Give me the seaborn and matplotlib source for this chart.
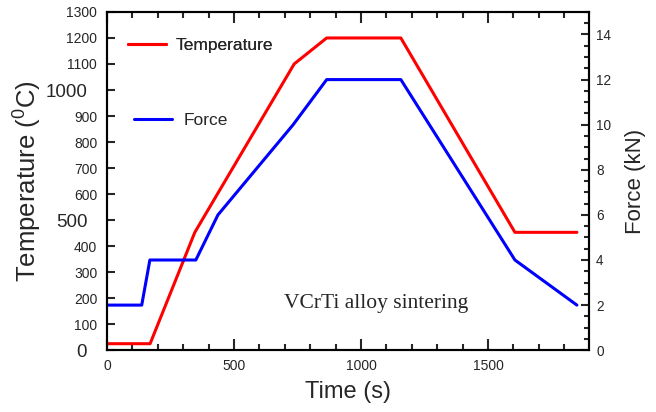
import numpy as np
import pandas as pd
import matplotlib
matplotlib.use("Agg")
import matplotlib.pyplot as plt
import matplotlib.transforms as mtransforms
import seaborn as sns
from matplotlib.ticker import MultipleLocator

# Data
temp_time = [0, 170, 346, 737, 865, 1157, 1606, 1850]
temp_vals = [25, 25, 453, 1100, 1200, 1200, 453, 453]
force_time = [0, 137, 169, 350, 437, 733, 865, 1157, 1606, 1850]
force_vals = [2, 2, 4, 4, 6, 10, 12, 12, 4, 2]

temp_ticks = list(range(0, 1301, 100))
big_ticks = [0, 500, 1000]

sns.set_style("ticks")
plt.rcParams['font.family'] = ['Liberation Sans', 'DejaVu Sans']

fig = plt.figure(figsize=(6.56, 4.12), dpi=100)
ax = fig.add_axes([0.163, 0.150, 0.735, 0.821])
ax2 = ax.twinx()

df_t = pd.DataFrame({"Time": temp_time, "Temperature": temp_vals})
df_f = pd.DataFrame({"Time": force_time, "Force": force_vals})

sns.lineplot(data=df_t, x="Time", y="Temperature", ax=ax, color="#ff0000",
             linewidth=2.2, label="Temperature", legend=False)
sns.lineplot(data=df_f, x="Time", y="Force", ax=ax2, color="#0000ff",
             linewidth=2.2, label="Force", legend=False)

ax.set_xlim(0, 1898)
ax.set_ylim(0, 1300)
ax2.set_ylim(0, 15)

for a in (ax, ax2):
    for s in a.spines.values():
        s.set_linewidth(1.5)
        s.set_color("black")
        s.set_visible(True)

# x ticks
ax.xaxis.set_major_locator(MultipleLocator(500))
ax.xaxis.set_minor_locator(MultipleLocator(100))
ax.tick_params(axis='x', which='both', direction='in', top=True, bottom=True,
               labelsize=10, width=1.5, pad=6)
ax.tick_params(axis='x', which='major', length=8)
ax.tick_params(axis='x', which='minor', length=4)

# left y ticks
ax.set_yticks(temp_ticks)
ax.set_yticklabels([str(v) for v in temp_ticks])
ax.tick_params(axis='y', which='major', direction='in', length=6, width=1.5,
               left=True, right=False, pad=7)
shift = mtransforms.ScaledTranslation(-10 / 100, 0, fig.dpi_scale_trans)
for lab, v in zip(ax.get_yticklabels(), temp_ticks):
    if v in big_ticks:
        lab.set_fontsize(13.5)
        lab.set_transform(lab.get_transform() + shift)
    else:
        lab.set_fontsize(10)

# right y ticks
ax2.yaxis.set_major_locator(MultipleLocator(2))
ax2.yaxis.set_minor_locator(MultipleLocator(0.5))
ax2.tick_params(axis='y', which='both', direction='in', right=True, left=False,
                labelsize=9.8, width=1.5, pad=5)
ax2.tick_params(axis='y', which='major', length=6)
ax2.tick_params(axis='y', which='minor', length=3.5)

ax.set_xlabel("Time (s)", fontsize=17, labelpad=6)
ax.set_ylabel("Temperature ($\\mathregular{^0}$C)", fontsize=18.5, labelpad=1)
ax2.set_ylabel("Force (kN)", fontsize=16, labelpad=10)

# Legends placed like the reference
h1 = ax.get_lines()[0]
h2 = ax2.get_lines()[0]
leg1 = ax.legend([h1], ["Temperature"], loc='center left', frameon=False,
                 bbox_to_anchor=(0.011, 0.902), fontsize=12.5, handlelength=2.2,
                 handletextpad=0.58)
ax.add_artist(leg1)
ax2.legend([h2], ["Force"], loc='center left', frameon=False,
           bbox_to_anchor=(0.024, 0.678), fontsize=12.5, handlelength=2.2,
           handletextpad=0.63)

ax.text(0.558, 0.139, "VCrTi alloy sintering", transform=ax.transAxes,
        fontsize=15.5, family=['Liberation Serif', 'DejaVu Serif'],
        ha='center', va='center')

fig.savefig("out.png", dpi=100)
